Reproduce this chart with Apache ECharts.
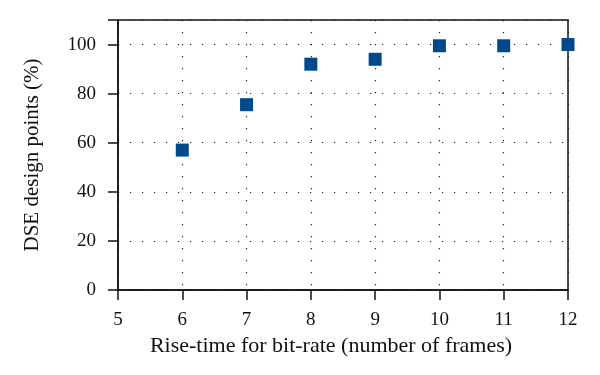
<!DOCTYPE html>
<html>
<head>
<meta charset="utf-8">
<script src="https://cdn.jsdelivr.net/npm/echarts@6/dist/echarts.min.js"></script>
<style>
  html, body { margin: 0; padding: 0; background: #fff; }
  #chart { width: 600px; height: 375px; }
</style>
</head>
<body>
<div id="chart"></div>
<script>
// rise-time (frames) vs share of DSE design points
var riseTime = [6, 7, 8, 9, 10, 11, 12];
var designPoints = [57, 75.5, 92, 94, 99.5, 99.5, 100];

var font = 'Liberation Serif';
var dotted = { color: '#222', width: 1.2, type: [1.2, 10.8] };

var chart = echarts.init(document.getElementById('chart'));
chart.setOption({
    animation: false,
    grid: {
        left: 118, right: 32, top: 20, bottom: 85,
        show: true, borderColor: '#111', borderWidth: 1.5
    },
    xAxis: {
        type: 'value',
        min: 5, max: 12, interval: 1,
        name: 'Rise-time for bit-rate (number of frames)',
        nameLocation: 'middle', nameGap: 38,
        nameTextStyle: { fontFamily: font, fontSize: 22, color: '#111', padding: [0, 24, 0, 0] },
        axisLine: { lineStyle: { color: '#111', width: 1.5 } },
        axisTick: { length: 10, lineStyle: { color: '#111', width: 1.5 } },
        axisLabel: { fontFamily: font, fontSize: 19, color: '#111', margin: 21 },
        splitLine: { show: true, lineStyle: dotted }
    },
    yAxis: {
        type: 'value',
        min: 0, max: 110, interval: 20,
        name: 'DSE design points (%)',
        nameLocation: 'middle', nameGap: 75,
        nameTextStyle: { fontFamily: font, fontSize: 21, color: '#111' },
        axisLine: { show: true, lineStyle: { color: '#111', width: 1.5 } },
        axisTick: { show: true, length: 10, lineStyle: { color: '#111', width: 1.5 } },
        axisLabel: {
            fontFamily: font, fontSize: 19, color: '#111', margin: 22,
            formatter: function (v) { return v > 100 ? '' : v; }
        },
        splitLine: { show: true, lineStyle: dotted }
    },
    series: [{
        type: 'scatter',
        symbol: 'rect',
        symbolSize: 13,
        clip: false,
        itemStyle: { color: '#004a8c', opacity: 1 },
        data: riseTime.map(function (x, i) { return [x, designPoints[i]]; })
    }]
});
</script>
</body>
</html>
